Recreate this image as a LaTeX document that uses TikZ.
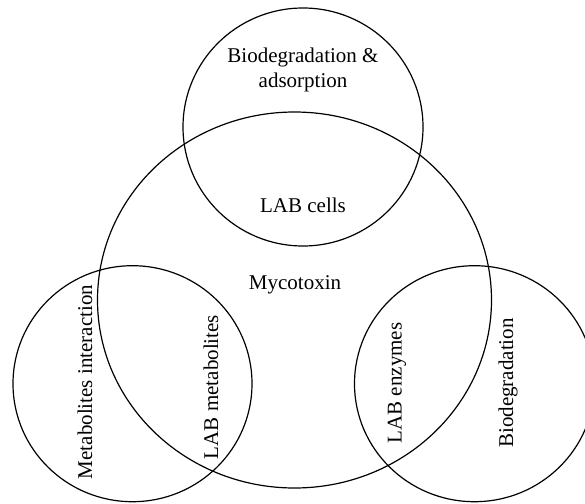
\documentclass[tikz,border=0pt]{standalone}
\usepackage{fontspec}
\setmainfont{Liberation Serif}
\begin{document}
\begin{tikzpicture}[x=1pt,y=-1pt,
  ring/.style={draw=black,line width=1.2pt},
  lbl/.style={font=\fontsize{21}{25}\selectfont,inner sep=0pt,align=center}]
\useasboundingbox (0,0) rectangle (585,503);
\draw[ring] (294.5,300) ellipse [x radius=197, y radius=188];
\draw[ring] (303,127) ellipse [x radius=120, y radius=119];
\draw[ring] (132.5,383.7) ellipse [x radius=119.5, y radius=118];
\draw[ring] (474.5,383.7) ellipse [x radius=120, y radius=118];
\node[lbl] (bda) at (303,69.5) {Biodegradation \&\\adsorption};
\node[lbl] (cells) at (303,205) {LAB cells};
\node[lbl] (myco) at (295,285) {Mycotoxin};
\node[lbl,rotate=90] (mint) at (85,382) {Metabolites interaction};
\node[lbl,rotate=90] (lmet) at (211,387) {LAB metabolites};
\node[lbl,rotate=90] (lenz) at (397,383) {LAB enzymes};
\node[lbl,rotate=90] (bd) at (508,383) {Biodegradation};
\end{tikzpicture}
\end{document}
